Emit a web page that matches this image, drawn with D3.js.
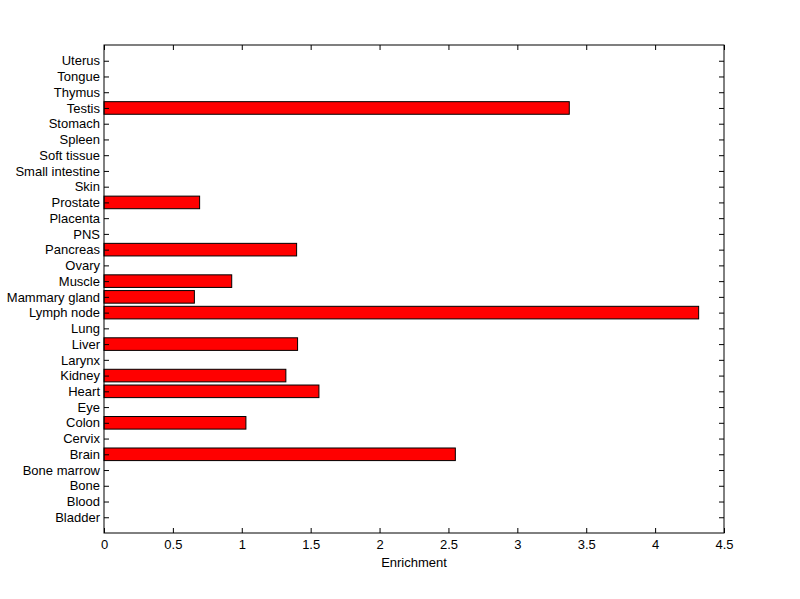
<!DOCTYPE html>
<html><head><meta charset="utf-8">
<script src="https://cdn.jsdelivr.net/npm/d3@7"></script>
<style>body{margin:0;background:#fff}text{font-family:"Liberation Sans",Arial,sans-serif;font-size:13px;fill:#000}</style>
</head><body>
<svg id="c" width="800" height="599"></svg>
<script>
const tissues = ["Bladder","Blood","Bone","Bone marrow","Brain","Cervix","Colon","Eye","Heart","Kidney","Larynx","Liver","Lung","Lymph node","Mammary gland","Muscle","Ovary","Pancreas","PNS","Placenta","Prostate","Skin","Small intestine","Soft tissue","Spleen","Stomach","Testis","Thymus","Tongue","Uterus"];
const enrichment = [0,0,0,0,2.55,0,1.03,0,1.56,1.32,0,1.405,0,4.316,0.656,0.927,0,1.398,0,0,0.694,0,0,0,0,0,3.377,0,0,0];
const xTicks = [0,0.5,1,1.5,2,2.5,3,3.5,4,4.5];

const L=104,R=724,T=45,B=533;
const svg=d3.select("#c");
const x=d3.scaleLinear().domain([0,4.5]).range([L,R]);
const y=d3.scaleLinear().domain([0,31]).range([B,T]);
const bh=(y(0)-y(0.8));

svg.append("g").selectAll("rect").data(tissues.map((t,i)=>({t,v:enrichment[i],i:i+1})).filter(d=>d.v>0))
 .enter().append("rect")
 .attr("x",x(0)).attr("y",d=>y(d.i)-bh/2).attr("width",d=>x(d.v)-x(0)).attr("height",bh)
 .attr("fill","#ff0000").attr("stroke","#000").attr("stroke-width",1);

const fmt=d=>String(d);
svg.append("g").attr("transform",`translate(0,${B})`).call(d3.axisBottom(x).tickValues(xTicks).tickFormat(fmt).tickSizeInner(-5).tickSizeOuter(0).tickPadding(7));
svg.append("g").attr("transform",`translate(0,${T})`).call(d3.axisTop(x).tickValues(xTicks).tickFormat("").tickSizeInner(-5).tickSizeOuter(0));
const yt=d3.range(1,31);
svg.append("g").attr("transform",`translate(${L},0)`).call(d3.axisLeft(y).tickValues(yt).tickFormat(d=>tissues[d-1]).tickSizeInner(-5).tickSizeOuter(0).tickPadding(4));
svg.append("g").attr("transform",`translate(${R},0)`).call(d3.axisRight(y).tickValues(yt).tickFormat("").tickSizeInner(-5).tickSizeOuter(0));
svg.selectAll(".domain").remove();
svg.selectAll(".tick line").attr("stroke","#000");
svg.selectAll(".tick text").attr("fill","#000").style("font-size","13px");
svg.append("rect").attr("x",L).attr("y",T).attr("width",R-L).attr("height",B-T).attr("fill","none").attr("stroke","#000");
svg.append("text").attr("x",(L+R)/2).attr("y",567).attr("text-anchor","middle").text("Enrichment");
</script>
</body></html>
